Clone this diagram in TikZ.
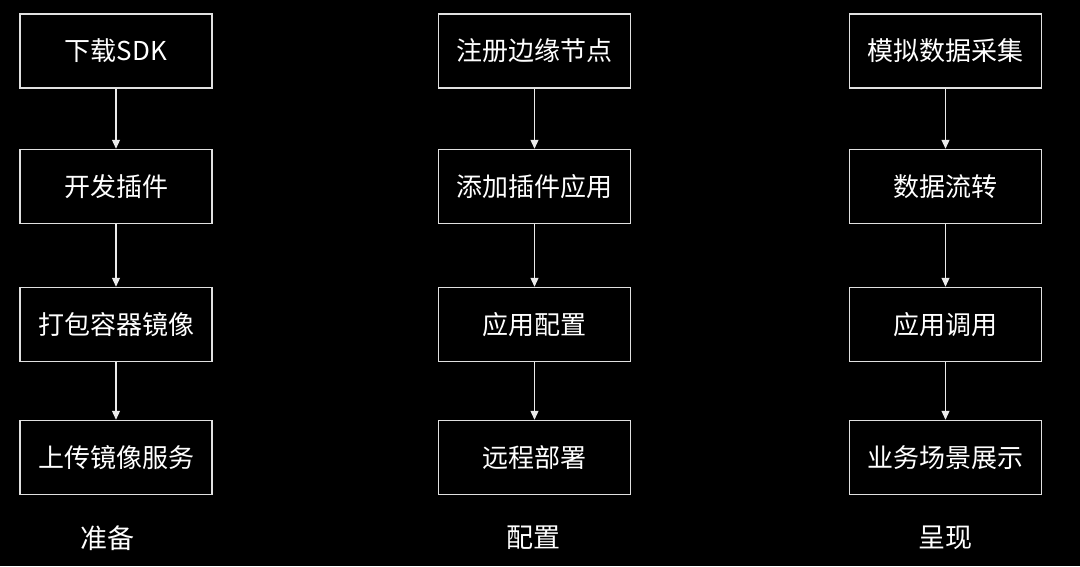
\documentclass[tikz,border=0pt]{standalone}
\usepackage{fontspec}
\setmainfont{Noto Sans CJK SC}
\usetikzlibrary{arrows.meta}
\tikzset{
    stepbox/.style={draw=white!88!black, line width=1.5pt, text=white, minimum width=192pt, minimum height=74pt, inner sep=0pt, font=\fontsize{26}{30}\selectfont},
    phase/.style={text=white, font=\fontsize{27}{32}\selectfont},
    flow/.style={white!92!black, line width=1.2pt, -{Triangle[width=8pt,length=9pt]}},
}
\begin{document}
\begin{tikzpicture}[x=1pt, y=-1pt]
    \fill[black] (0, 0) rectangle (1080, 566);
    \useasboundingbox (0, 0) rectangle (1080, 566);
    % 准备
    \node[stepbox] (sdk) at (116, 51) {下载SDK};
    \node[stepbox] (dev) at (116, 186.5) {开发插件};
    \node[stepbox] (pack) at (116, 324.5) {打包容器镜像};
    \node[stepbox] (upload) at (116, 457.5) {上传镜像服务};
    \node[phase] (prep) at (107.5, 538) {准备};
    % 配置
    \node[stepbox] (reg) at (534.5, 51) {注册边缘节点};
    \node[stepbox] (addapp) at (534.5, 186.5) {添加插件应用};
    \node[stepbox] (appcfg) at (534.5, 324.5) {应用配置};
    \node[stepbox] (deploy) at (534.5, 457.5) {远程部署};
    \node[phase] (conf) at (533, 538) {配置};
    % 呈现
    \node[stepbox] (sim) at (945.5, 51) {模拟数据采集};
    \node[stepbox] (dataflow) at (945.5, 186.5) {数据流转};
    \node[stepbox] (call) at (945.5, 324.5) {应用调用};
    \node[stepbox] (show) at (945.5, 457.5) {业务场景展示};
    \node[phase] (pres) at (945.5, 538) {呈现};
    \draw[flow] (sdk) -- (dev);
    \draw[flow] (dev) -- (pack);
    \draw[flow] (pack) -- (upload);
    \draw[flow] (reg) -- (addapp);
    \draw[flow] (addapp) -- (appcfg);
    \draw[flow] (appcfg) -- (deploy);
    \draw[flow] (sim) -- (dataflow);
    \draw[flow] (dataflow) -- (call);
    \draw[flow] (call) -- (show);
\end{tikzpicture}
\end{document}
